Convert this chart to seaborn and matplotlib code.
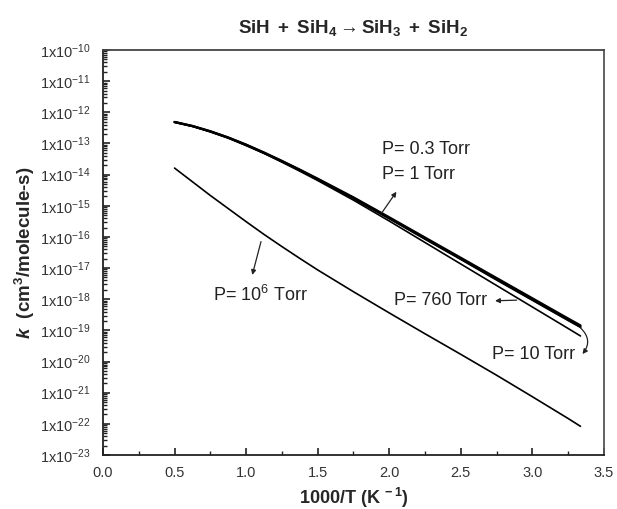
import numpy as np
import pandas as pd
import matplotlib
matplotlib.use("Agg")
import matplotlib.pyplot as plt
from matplotlib.ticker import LogLocator, FuncFormatter, MultipleLocator, NullFormatter
import seaborn as sns

# 1000/T grid (K^-1) and log10 of the rate constant k (cm^3/molecule-s)
inv_T = [0.5, 0.625, 0.75, 0.875, 1.0, 1.125, 1.25, 1.375, 1.5,
         1.75, 2.0, 2.25, 2.5, 2.75, 3.0, 3.25, 3.336]

log_k_p03 = [-12.31, -12.44, -12.61, -12.81, -13.04, -13.29, -13.56, -13.84, -14.13,
             -14.73, -15.37, -16.02, -16.67, -17.32, -17.97, -18.62, -18.84]
log_k_p1 = [-12.31, -12.44, -12.61, -12.81, -13.04, -13.30, -13.57, -13.85, -14.15,
            -14.75, -15.40, -16.05, -16.70, -17.36, -18.01, -18.66, -18.88]
log_k_p10 = [-12.32, -12.45, -12.62, -12.82, -13.05, -13.31, -13.58, -13.86, -14.16,
             -14.77, -15.41, -16.07, -16.72, -17.38, -18.03, -18.68, -18.90]
log_k_p760 = [-12.32, -12.45, -12.63, -12.83, -13.07, -13.32, -13.60, -13.89, -14.19,
              -14.82, -15.49, -16.18, -16.87, -17.56, -18.25, -18.94, -19.18]
log_k_p1e6 = [-13.79, -14.23, -14.67, -15.09, -15.51, -15.92, -16.31, -16.69, -17.06,
              -17.76, -18.44, -19.11, -19.77, -20.44, -21.13, -21.83, -22.08]

pressures = ["0.3 Torr", "1 Torr", "10 Torr", "760 Torr", "1e6 Torr"]
series = [log_k_p03, log_k_p1, log_k_p10, log_k_p760, log_k_p1e6]
line_widths = [1.6, 1.6, 1.4, 1.2, 1.2]

df = pd.concat(
    [pd.DataFrame({"invT": inv_T, "k": 10.0 ** np.array(v), "P": p})
     for p, v in zip(pressures, series)],
    ignore_index=True,
)

sns.set_style("ticks")
plt.rcParams["font.family"] = ["Liberation Sans", "DejaVu Sans"]
plt.rcParams["mathtext.fontset"] = "custom"
plt.rcParams["mathtext.rm"] = "Liberation Sans"
plt.rcParams["mathtext.it"] = "Liberation Sans:italic"
plt.rcParams["mathtext.bf"] = "Liberation Sans:bold"
plt.rcParams["mathtext.bfit"] = "Liberation Sans:italic:bold"
plt.rcParams["mathtext.default"] = "regular"

fig = plt.figure(figsize=(6.17, 5.09), dpi=100)
ax = fig.add_axes([0.1669, 0.1061, 0.8120, 0.7957])

sns.lineplot(
    data=df, x="invT", y="k", hue="P", hue_order=pressures,
    palette={p: "black" for p in pressures},
    linewidth=1.2, legend=False, ax=ax, sort=False,
)
for line, lw in zip(ax.lines, line_widths):
    line.set_linewidth(lw)

ax.set_yscale("log")
ax.set_xlim(0.0, 3.5)
ax.set_ylim(1e-23, 1e-10)

ax.yaxis.set_major_locator(LogLocator(base=10, numticks=30))
ax.yaxis.set_minor_locator(LogLocator(base=10, subs=np.arange(2, 10), numticks=300))
ax.yaxis.set_minor_formatter(NullFormatter())
ax.yaxis.set_major_formatter(
    FuncFormatter(lambda v, pos: r"1x10$^{%d}$" % int(round(np.log10(v))))
)
ax.xaxis.set_major_locator(MultipleLocator(0.5))
ax.xaxis.set_minor_locator(MultipleLocator(0.25))
ax.xaxis.set_major_formatter(FuncFormatter(lambda v, pos: f"{v:.1f}"))

ax.tick_params(axis="both", which="major", direction="in", length=5, width=1.2,
               labelsize=10.5, colors="#222222", labelcolor="#333333")
ax.tick_params(axis="both", which="minor", direction="in", length=3, width=1.0,
               colors="#222222")
ax.tick_params(axis="y", which="major", pad=9)
ax.tick_params(axis="x", which="major", pad=8)
ax.tick_params(top=False, right=False, which="both")

for s in ax.spines.values():
    s.set_linewidth(1.3)
    s.set_color("#222222")
ax.spines["top"].set_color("#444444")
ax.spines["right"].set_color("#555555")

ax.set_xlabel(r"1000/T (K$^{\mathbf{\ -1}}$)", fontsize=13, fontweight="bold",
              labelpad=4)
ax.set_ylabel(r"$\mathbfit{k}$  (cm$^{\mathbf{3}}$/molecule-s)", fontsize=13.5,
              fontweight="bold", labelpad=2)
ax.set_title(r"$\mathbf{SiH\ +\ SiH_4}$$\rightarrow$$\mathbf{SiH_3\ +\ SiH_2}$",
             fontsize=13.5, pad=12)

txt_kw = dict(fontsize=13, color="#222222", va="center", ha="left")
ax.text(1.95, 10 ** -13.21, "P= 0.3 Torr", **txt_kw)
ax.text(1.95, 10 ** -14.01, "P= 1 Torr", **txt_kw)
ax.text(2.03, 10 ** -18.03, "P= 760 Torr", **txt_kw)
ax.text(2.72, 10 ** -19.79, "P= 10 Torr", **txt_kw)
ax.text(0.77, 10 ** -17.87, r"P= 10$^{6}$ Torr", **txt_kw)

arrow_kw = dict(arrowstyle="-|>", color="#222222", lw=0.9, mutation_scale=7,
                shrinkA=0, shrinkB=0)
ax.annotate("", xy=(2.05, 10 ** -14.55), xytext=(1.946, 10 ** -15.24),
            arrowprops=arrow_kw)
ax.annotate("", xy=(1.043, 10 ** -17.22), xytext=(1.104, 10 ** -16.15),
            arrowprops=arrow_kw)
ax.annotate("", xy=(2.739, 10 ** -18.05), xytext=(2.89, 10 ** -18.03),
            arrowprops=arrow_kw)
ax.annotate("", xy=(3.35, 10 ** -19.76), xytext=(3.336, 10 ** -18.92),
            arrowprops=dict(arrow_kw, connectionstyle="arc3,rad=-0.45"))

fig.savefig("out.png", dpi=100)
